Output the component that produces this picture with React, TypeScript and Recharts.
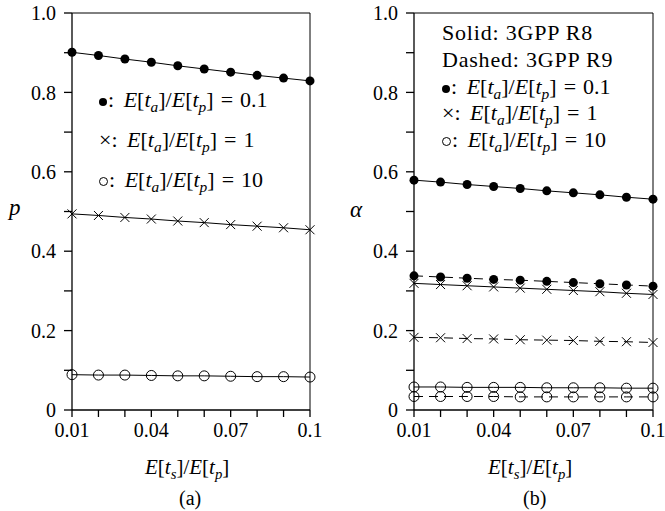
import React from 'react';
import { LineChart, Line, XAxis, YAxis, ReferenceLine } from 'recharts';

const xValues = [0.01, 0.02, 0.03, 0.04, 0.05, 0.06, 0.07, 0.08, 0.09, 0.1];
const xTicks = [0.01, 0.02, 0.03, 0.04, 0.05, 0.06, 0.07, 0.08, 0.09, 0.1];
const xLabels = ['0.01', '0.04', '0.07', '0.1'];
const yTicks = [0, 0.1, 0.2, 0.3, 0.4, 0.5, 0.6, 0.7, 0.8, 0.9, 1.0];
const yLabels = ['0', '0.2', '0.4', '0.6', '0.8', '1.0'];

// panel (a): p
const pFilled = [0.901, 0.893, 0.884, 0.876, 0.867, 0.859, 0.851, 0.843, 0.836, 0.829];
const pCross = [0.494, 0.49, 0.485, 0.481, 0.476, 0.472, 0.467, 0.463, 0.459, 0.454];
const pOpen = [0.089, 0.088, 0.088, 0.087, 0.086, 0.086, 0.085, 0.084, 0.084, 0.083];

// panel (b): alpha, R8 solid / R9 dashed
const aR8Filled = [0.579, 0.574, 0.568, 0.563, 0.558, 0.552, 0.547, 0.542, 0.536, 0.531];
const aR9Filled = [0.338, 0.335, 0.332, 0.329, 0.327, 0.324, 0.321, 0.318, 0.315, 0.312];
const aR8Cross = [0.319, 0.316, 0.313, 0.31, 0.307, 0.304, 0.301, 0.298, 0.294, 0.291];
const aR9Cross = [0.183, 0.182, 0.18, 0.179, 0.177, 0.176, 0.175, 0.173, 0.172, 0.17];
const aR8Open = [0.058, 0.058, 0.057, 0.057, 0.057, 0.056, 0.056, 0.056, 0.055, 0.055];
const aR9Open = [0.034, 0.034, 0.034, 0.034, 0.033, 0.033, 0.033, 0.033, 0.033, 0.033];

const dataA = xValues.map((x, i) => ({ x, filled: pFilled[i], cross: pCross[i], open: pOpen[i] }));
const dataB = xValues.map((x, i) => ({
  x,
  r8f: aR8Filled[i],
  r9f: aR9Filled[i],
  r8x: aR8Cross[i],
  r9x: aR9Cross[i],
  r8o: aR8Open[i],
  r9o: aR9Open[i],
}));

const FONT = 'Liberation Serif, serif';

const FilledDot = (props: any) => {
  const { cx, cy, index } = props;
  return <circle key={index} cx={cx} cy={cy} r={4.5} fill="#000" />;
};
const OpenDot = (props: any) => {
  const { cx, cy, index } = props;
  return <circle key={index} cx={cx} cy={cy} r={5} fill="none" stroke="#000" strokeWidth={1} />;
};
const CrossDot = (props: any) => {
  const { cx, cy, index } = props;
  const s = 4.5;
  return (
    <path
      key={index}
      d={`M${cx - s},${cy - s}L${cx + s},${cy + s}M${cx - s},${cy + s}L${cx + s},${cy - s}`}
      stroke="#000"
      strokeWidth={1}
    />
  );
};

const fmtX = (v: number) => {
  const s = String(Number(v.toFixed(2)));
  return xLabels.includes(s) ? s : '';
};
const fmtY = (v: number) => {
  const r = Number(v.toFixed(1));
  const s = r === 0 ? '0' : r.toFixed(1);
  return yLabels.includes(s) ? s : '';
};

const sub = { fontSize: '0.7em' };

const Ratio = ({ value }: { value: string }) => (
  <span style={{ marginLeft: 4 }}>
    <i>E</i>[<i>t</i>
    <sub style={sub}>
      <i>a</i>
    </sub>
    ]/<i>E</i>[<i>t</i>
    <sub style={sub}>
      <i>p</i>
    </sub>
    ]<span style={{ margin: '0 7px' }}>=</span>
    {value}
  </span>
);

const Dot = ({ open }: { open?: boolean }) => (
  <span
    style={{
      display: 'inline-block',
      width: open ? 7 : 8,
      height: open ? 7 : 8,
      borderRadius: '50%',
      background: open ? 'none' : '#000',
      border: open ? '1px solid #000' : 'none',
      verticalAlign: 'middle',
      marginRight: 1,
    }}
  />
);

const XLabel = () => (
  <span>
    <i>E</i>[<i>t</i>
    <sub style={sub}>
      <i>s</i>
    </sub>
    ]/<i>E</i>[<i>t</i>
    <sub style={sub}>
      <i>p</i>
    </sub>
    ]
  </span>
);

const axisProps = {
  stroke: '#000',
  strokeWidth: 1.3,
};
const tickStyle = { fill: '#000', fontSize: 20, fontFamily: FONT };

const abs = (left: number, top: number, extra: React.CSSProperties = {}): React.CSSProperties => ({
  position: 'absolute',
  left,
  top,
  fontFamily: FONT,
  fontSize: 21,
  lineHeight: '22px',
  whiteSpace: 'nowrap',
  color: '#000',
  ...extra,
});

const leg = { fontSize: 22 };

export default function App() {
  return (
    <div style={{ position: 'absolute', left: 0, top: 0, width: 665, height: 511, background: '#fff' }}>
      <div style={{ position: 'absolute', left: 0, top: 0 }}>
        <LineChart width={335} height={445} data={dataA} margin={{ top: 13, right: 25, left: 0, bottom: 0 }}>
          <XAxis
            dataKey="x"
            type="number"
            domain={[0.01, 0.1]}
            ticks={xTicks}
            tickFormatter={fmtX}
            interval={0}
            height={35}
            tick={tickStyle}
            tickSize={7}
            tickMargin={6}
            {...axisProps}
          />
          <YAxis
            type="number"
            domain={[0, 1]}
            ticks={yTicks}
            tickFormatter={fmtY}
            interval={0}
            width={72}
            tick={tickStyle}
            tickSize={8}
            tickMargin={8}
            {...axisProps}
          />
          <ReferenceLine y={1} stroke="#000" strokeWidth={1} />
          <ReferenceLine x={0.1} stroke="#000" strokeWidth={1} />
          <Line dataKey="filled" stroke="#000" strokeWidth={1} dot={FilledDot} isAnimationActive={false} />
          <Line dataKey="cross" stroke="#000" strokeWidth={1} dot={CrossDot} isAnimationActive={false} />
          <Line dataKey="open" stroke="#000" strokeWidth={1} dot={OpenDot} isAnimationActive={false} />
        </LineChart>
      </div>
      <div style={{ position: 'absolute', left: 335, top: 0 }}>
        <LineChart width={330} height={445} data={dataB} margin={{ top: 13, right: 12, left: 0, bottom: 0 }}>
          <XAxis
            dataKey="x"
            type="number"
            domain={[0.01, 0.1]}
            ticks={xTicks}
            tickFormatter={fmtX}
            interval={0}
            height={35}
            tick={tickStyle}
            tickSize={7}
            tickMargin={6}
            {...axisProps}
          />
          <YAxis
            type="number"
            domain={[0, 1]}
            ticks={yTicks}
            tickFormatter={fmtY}
            interval={0}
            width={79}
            tick={tickStyle}
            tickSize={8}
            tickMargin={8}
            {...axisProps}
          />
          <ReferenceLine y={1} stroke="#000" strokeWidth={1} />
          <ReferenceLine x={0.1} stroke="#000" strokeWidth={1} />
          <Line dataKey="r8f" stroke="#000" strokeWidth={1} dot={FilledDot} isAnimationActive={false} />
          <Line dataKey="r9f" stroke="#000" strokeWidth={1} strokeDasharray="9 6" dot={FilledDot} isAnimationActive={false} />
          <Line dataKey="r8x" stroke="#000" strokeWidth={1} dot={CrossDot} isAnimationActive={false} />
          <Line dataKey="r9x" stroke="#000" strokeWidth={1} strokeDasharray="9 6" dot={CrossDot} isAnimationActive={false} />
          <Line dataKey="r8o" stroke="#000" strokeWidth={1} dot={OpenDot} isAnimationActive={false} />
          <Line dataKey="r9o" stroke="#000" strokeWidth={1} strokeDasharray="9 6" dot={OpenDot} isAnimationActive={false} />
        </LineChart>
      </div>

      {/* panel (a) legend */}
      <div style={abs(99, 89, leg)}>
        <Dot />: <Ratio value="0.1" />
      </div>
      <div style={abs(99, 129, leg)}>
        ×: <Ratio value="1" />
      </div>
      <div style={abs(99, 169, leg)}>
        <Dot open />: <Ratio value="10" />
      </div>

      {/* panel (b) legend */}
      <div style={abs(442, 22, { ...leg, letterSpacing: 0.8 })}>Solid: 3GPP R8</div>
      <div style={abs(442, 49, { ...leg, letterSpacing: 0.8 })}>Dashed: 3GPP R9</div>
      <div style={abs(442, 76, leg)}>
        <Dot />: <Ratio value="0.1" />
      </div>
      <div style={abs(442, 102, leg)}>
        ×: <Ratio value="1" />
      </div>
      <div style={abs(442, 129, leg)}>
        <Dot open />: <Ratio value="10" />
      </div>

      {/* axis titles */}
      <div style={abs(9, 197, { fontSize: 23, fontStyle: 'italic' })}>p</div>
      <div style={abs(350, 199, { fontSize: 23, fontStyle: 'italic' })}>α</div>
      <div style={abs(145, 456)}>
        <XLabel />
      </div>
      <div style={abs(488, 456)}>
        <XLabel />
      </div>
      <div style={abs(179, 487, { fontSize: 20 })}>(a)</div>
      <div style={abs(523, 487, { fontSize: 20 })}>(b)</div>
    </div>
  );
}
